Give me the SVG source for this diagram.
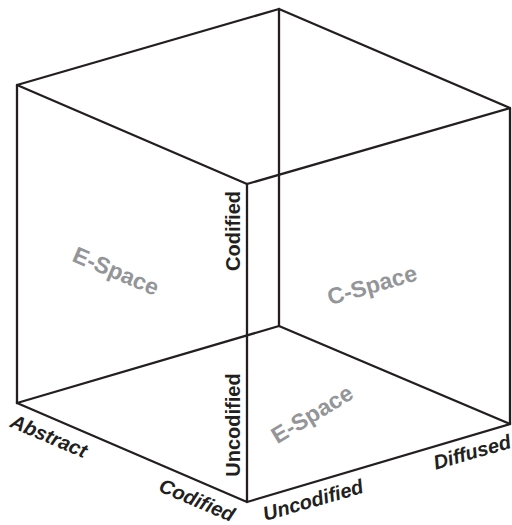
<svg xmlns="http://www.w3.org/2000/svg" width="512" height="525" viewBox="0 0 512 525">
<style>
.e{stroke:#231f20;stroke-width:2.3;fill:none;stroke-linecap:round;stroke-linejoin:round}
.ax{font-family:"Liberation Sans",Arial,sans-serif;font-weight:bold;font-size:20px;fill:#231f20;text-anchor:middle}
.it{font-style:italic}
.sp{font-family:"Liberation Sans",Arial,sans-serif;font-weight:bold;font-size:23px;fill:#939598;text-anchor:middle}
</style>
<rect width="512" height="525" fill="#fff"/>
<g id="edges">
<polyline class="e" points="17,403 17,85 279,9 510,108 510,424"/>
<polyline class="e" points="17,85 247,184 510,108"/>
<line class="e" x1="247" y1="184" x2="247" y2="502"/>
<line class="e" x1="279" y1="9" x2="279" y2="326"/>
<polyline class="e" points="17,403 247,502 510,424"/>
<polyline class="e" points="17,403 279,326 510,424"/>
</g>
<g id="label-codified-v"><text class="ax" transform="translate(233,231) rotate(-90)" y="7">Codified</text></g>
<g id="label-uncodified-v"><text class="ax" transform="translate(233,425) rotate(-90)" y="7">Uncodified</text></g>
<g id="label-espace-top"><text class="sp" transform="translate(116,271) rotate(23)" y="8">E-Space</text></g>
<g id="label-cspace"><text class="sp" transform="translate(372,285) rotate(-16)" y="8">C-Space</text></g>
<g id="label-espace-bottom"><text class="sp" transform="translate(312,414) rotate(-31)" y="8">E-Space</text></g>
<g id="label-abstract"><text class="ax it" transform="translate(49,436) rotate(23)" y="7">Abstract</text></g>
<g id="label-codified-b"><text class="ax it" transform="translate(197,500) rotate(23)" y="7">Codified</text></g>
<g id="label-uncodified-b"><text class="ax it" transform="translate(313,500) rotate(-16)" y="7">Uncodified</text></g>
<g id="label-diffused"><text class="ax it" transform="translate(472,452) rotate(-16)" y="7">Diffused</text></g>
</svg>
